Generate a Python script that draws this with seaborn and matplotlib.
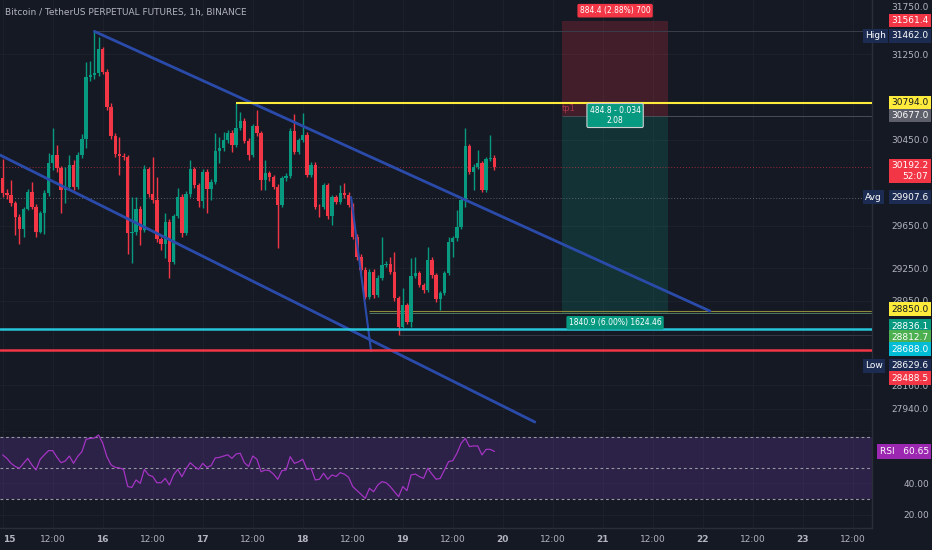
import numpy as np
import pandas as pd
import seaborn as sns
import matplotlib.pyplot as plt

# BTCUSDT perp, 1h candles starting Jun 15 00:00
first_open = 30096
closes = [29951, 29935, 29857, 29732, 29618, 29801, 29960, 29826, 29592, 29764,
          29956, 30236, 30308, 30184, 29982, 30012, 30215, 30012, 30308, 30458,
          31039, 31055, 31071, 31295, 31086, 30759, 30486, 30318, 30299, 30287,
          29577, 29592, 29804, 29608, 30178, 29944, 29888, 29521, 29478, 29683,
          29312, 29739, 29913, 29577, 29944, 30178, 30028, 29882, 30152, 29991,
          30059, 30346, 30371, 30448, 30516, 30402, 30563, 30626, 30442, 30308,
          30579, 30511, 30075, 30137, 30100, 30012, 29842, 30091, 30112, 30535,
          30339, 30448, 30495, 30122, 30215, 29826, 29820, 30028, 29739, 29913,
          29872, 29951, 29935, 29842, 29546, 29359, 29235, 28986, 29219, 29001,
          29160, 29282, 29291, 29219, 28971, 28706, 28908, 28752, 29179, 29204,
          29095, 29048, 29328, 29188, 28961, 29017, 29204, 29499, 29531, 29639,
          29888, 30392, 30152, 30199, 30231, 29982, 30268, 30283, 30192.2]
highs = [30268, 29990, 30075, 29880, 29760, 29826, 29988, 30059, 29850, 29790,
         29980, 30324, 30557, 30402, 30210, 30199, 30308, 30262, 30336, 30504,
         31179, 31188, 31462, 31412, 31320, 31110, 30790, 30510, 30479, 30330,
         30310, 29919, 29919, 29830, 30215, 30200, 30292, 30100, 29545, 29764,
         29710, 29760, 29997, 29940, 29970, 30262, 30200, 30050, 30180, 30175,
         30085, 30511, 30479, 30526, 30545, 30540, 30794, 30713, 30650, 30465,
         30600, 30728, 30530, 30262, 30160, 30125, 30035, 30110, 30140, 30560,
         30691, 30470, 30697, 30520, 30240, 30240, 29850, 30050, 30050, 29935,
         29935, 30028, 30044, 29966, 29865, 29570, 29380, 29260, 29245, 29240,
         29185, 29546, 29320, 29359, 29406, 28995, 29064, 28930, 29344, 29359,
         29225, 29115, 29452, 29359, 29210, 29040, 29225, 29546, 29555, 29795,
         29910, 30557, 30415, 30220, 30355, 30255, 30290, 30495, 30305]
lows = [29920, 29900, 29830, 29562, 29478, 29546, 29795, 29800, 29546, 29580,
        29571, 29930, 30168, 30150, 29764, 29857, 29990, 29982, 29990, 30280,
        30374, 31000, 31020, 31050, 31060, 30730, 30460, 30290, 30122, 30262,
        29384, 29297, 29562, 29468, 29590, 29920, 29860, 29500, 29422, 29344,
        29157, 29290, 29720, 29546, 29560, 29920, 30000, 29826, 29811, 29764,
        29888, 30040, 30231, 30350, 30420, 30339, 30380, 30540, 30420, 30262,
        30290, 30490, 29982, 29982, 30070, 29990, 29437, 29820, 30070, 30090,
        30320, 30320, 30430, 30100, 30100, 29800, 29732, 29800, 29715, 29655,
        29850, 29850, 29910, 29820, 29520, 29330, 29210, 28960, 28960, 28975,
        28980, 29140, 29260, 29200, 28950, 28629.6, 28690, 28730, 28706, 29160,
        29075, 29017, 29030, 29165, 28940, 28862, 29000, 29185, 29359, 29510,
        29620, 29826, 30130, 29982, 30180, 29960, 29960, 30250, 30170]
rsi = [58.4, 56.2, 53, 51, 49.8, 53, 56.2, 52, 48.7, 55.6,
       58.5, 61.2, 61.2, 57, 53.4, 54.5, 57.7, 53.0, 57.5, 60.5,
       68.5, 69.1, 69.3, 71.3, 66, 57.3, 52, 50.4, 50, 49.1,
       38.0, 37.5, 42.3, 40.1, 49.1, 45.5, 44.5, 40.5, 40.5, 43.3,
       39.0, 45.5, 49.1, 44.4, 49.5, 53.4, 51, 49.1, 53.0, 50.4,
       51.5, 56.5, 56.8, 57.7, 58.5, 56.2, 59.0, 59.5, 53.4, 51,
       57.7, 55.6, 47.6, 48.7, 48.3, 46, 42.7, 48.3, 48.7, 57.3,
       53.0, 54, 55.6, 49.1, 49.8, 42.3, 42.7, 46.6, 42.7, 45.5,
       44.5, 47.0, 46, 44, 38.0, 35.5, 33.0, 30.4, 36.9, 34.7,
       39.0, 41.2, 40.5, 38, 34.7, 31.5, 38.0, 35.4, 45.5, 46.1,
       44.4, 43.3, 49.8, 46.1, 42.7, 43.3, 48.7, 54.1, 54.7, 59.5,
       65.9, 69.1, 63.8, 64.2, 64.2, 58.4, 62.0, 62.0, 60.65]

day_ticks = list(range(0, 205, 12))
day_labels = ['15', '12:00', '16', '12:00', '17', '12:00', '18', '12:00', '19',
              '12:00', '20', '12:00', '21', '12:00', '22', '12:00', '23', '12:00']
price_ticks = [31250, 30450, 29650, 29250, 28950, 28160, 27940]
rsi_ticks = [40, 20]

# drawings
trend_upper = ([22, 169.7], [31462, 28852])
trend_lower = ([-0.65, 127.7], [30308, 27816])
trend_steep = ([83.6, 88.4], [29916, 28479])
resist = 30794.0
support_cyan = 28688.0
support_red = 28488.5
entry, stop, target = 30677.0, 31561.4, 28836.1
pos_x = (134.2, 159.7)

bg = '#151924'
txt = '#b2b5be'
up_c = '#089981'
dn_c = '#f23645'
blue = '#2b4bab'

sns.set_theme(style='dark', rc={'axes.facecolor': bg, 'figure.facecolor': bg})
plt.rcParams['font.family'] = ['Liberation Sans Narrow', 'DejaVu Sans']

df = pd.DataFrame({'hour': np.arange(len(closes)), 'open': [first_open] + closes[:-1],
                   'close': closes, 'high': highs, 'low': lows, 'rsi': rsi})
df['color'] = np.where(df['close'] >= df['open'], up_c, dn_c)

fig = plt.figure(figsize=(9.32, 5.5), dpi=100)
ax = fig.add_axes([0, 118 / 550, 872 / 932, 432 / 550])
ax2 = fig.add_axes([0, 22 / 550, 872 / 932, 96 / 550])

# ---- main price pane
xlim = (-0.65, 208.6)
ax.set_xlim(*xlim)
ax.set_ylim(27723, 31755)
ax.set_xticks(day_ticks)
ax.set_xticklabels([])
ax.set_yticks(price_ticks)
ax.set_yticklabels([f'{v:.1f}' for v in price_ticks])
ax.yaxis.tick_right()
ax.tick_params(axis='y', colors=txt, labelsize=6.5, length=0, pad=41)
ax.tick_params(axis='x', length=0)
for lbl in ax.get_yticklabels():
    lbl.set_ha('right')
ax.grid(True, color='#1d212c', lw=0.7)
for s in ['top', 'left']:
    ax.spines[s].set_visible(False)
for s in ['right', 'bottom']:
    ax.spines[s].set_color('#2a2e39')
    ax.spines[s].set_linewidth(1)

# position tool boxes
ax.fill_between(pos_x, entry, stop, color='#f23645', alpha=0.2, lw=0, zorder=1)
ax.fill_between(pos_x, target, entry, color='#089981', alpha=0.2, lw=0, zorder=1)

# reference lines
ax.hlines(31462, 22, xlim[1], color='#3a3e4a', lw=0.7, zorder=1)
ax.hlines(entry, pos_x[0], xlim[1], color='#4a4d57', lw=0.7, zorder=1)
ax.axhline(30192.2, color='#f23645', lw=0.7, ls=(0, (1, 2)), alpha=0.6, zorder=1)
ax.axhline(29907.6, color='#5d606b', lw=0.7, ls=(0, (1, 2)), zorder=1)
ax.hlines(28850.0, 88, xlim[1], color='#8d8a3c', lw=0.8, zorder=1)
ax.hlines(target, 88, xlim[1], color='#4f7560', lw=0.7, zorder=1)
ax.hlines(28629.6, 95, xlim[1], color='#343845', lw=0.7, zorder=1)

# candles
ax.vlines(df['hour'], df['low'], df['high'], color=df['color'], lw=1.0, zorder=3)
ax.bar(df['hour'], df['close'] - df['open'], bottom=df['open'], width=0.8,
       color=df['color'], lw=0, zorder=4)

# trendlines / levels
ax.plot(*trend_upper, color=blue, lw=2, solid_capstyle='round', zorder=5)
ax.plot(*trend_lower, color=blue, lw=2, solid_capstyle='round', zorder=5)
ax.plot(*trend_steep, color=blue, lw=1.5, zorder=5)
ax.hlines(resist, 56, xlim[1], color='#ffeb3b', lw=1.5, zorder=5)
ax.axhline(support_cyan, color='#26c6da', lw=1.8, zorder=5)
ax.axhline(support_red, color='#f23645', lw=1.8, zorder=5)

mid = sum(pos_x) / 2
ax.annotate('884.4 (2.88%) 700', (mid, stop), xytext=(0, 4), textcoords='offset points',
            ha='center', va='bottom', fontsize=5.5, color='white',
            bbox=dict(boxstyle='round,pad=0.3,rounding_size=0.2', fc='#f23645', ec='none'), zorder=7)
ax.annotate('484.8 - 0.034\n2.08', (mid, entry), xytext=(0, 0), textcoords='offset points',
            ha='center', va='center', fontsize=5.5, color='white', linespacing=1.1,
            bbox=dict(boxstyle='round,pad=0.35,rounding_size=0.2', fc='#089981', ec='#d0d0d0', lw=0.8),
            zorder=7)
ax.annotate('1840.9 (6.00%) 1624.46', (mid, target), xytext=(0, -4), textcoords='offset points',
            ha='center', va='top', fontsize=5.5, color='white',
            bbox=dict(boxstyle='round,pad=0.3,rounding_size=0.2', fc='#089981', ec='none'), zorder=7)
ax.annotate('tp1', (pos_x[0], entry), xytext=(0, 2), textcoords='offset points',
            ha='left', va='bottom', fontsize=6, color='#a8354a', zorder=7)

fig.text(5 / 932, 1 - 13 / 550, 'Bitcoin / TetherUS PERPETUAL FUTURES, 1h, BINANCE',
         fontsize=6.5, color=txt, va='center', ha='left')

# price scale tags: value, text, background, text colour, vertical shift (pt)
tags = [
    (31750.0, '31750.0', None, txt, -5),
    (31561.4, '31561.4', '#f23645', 'white', 0),
    (31462.0, '31462.0', '#1c2b52', 'white', -3.3),
    (resist, '30794.0', '#ffeb3b', '#131722', 0),
    (entry, '30677.0', '#5d606b', 'white', 0),
    (30192.2, '30192.2\n52:07', '#f23645', 'white', -2.6),
    (29907.6, '29907.6', '#1c2b52', 'white', 0.6),
    (28850.0, '28850.0', '#ffeb3b', '#131722', 1.5),
    (target, '28836.1', '#089981', 'white', -9.6),
    (28812.7, '28812.7', '#4caf50', 'white', -15.8),
    (support_cyan, '28688.0', '#00bcd4', 'white', -14.7),
    (28629.6, '28629.6', '#1c2b52', 'white', -22.3),
    (support_red, '28488.5', '#f23645', 'white', -20.2),
]
for val, label, fc, fg, dy in tags:
    box = None if fc is None else dict(boxstyle='square,pad=0.25', fc=fc, ec='none')
    ax.annotate(label, (1, val), xycoords=('axes fraction', 'data'), xytext=(40.5, dy),
                textcoords='offset points', ha='right', va='center', fontsize=6.5,
                color=fg, bbox=box, annotation_clip=False, linespacing=1.25, zorder=8)
for val, label, dy in [(31462.0, 'High', -3.3), (29907.6, 'Avg', 0.6), (28629.6, 'Low', -22.3)]:
    ax.annotate(label, (1, val), xycoords=('axes fraction', 'data'), xytext=(-5, dy),
                textcoords='offset points', ha='left', va='center', fontsize=6.5,
                color='white', annotation_clip=False, zorder=8,
                bbox=dict(boxstyle='square,pad=0.25', fc='#1c2b52', ec='none'))

# ---- RSI pane
ax2.set_xlim(*xlim)
ax2.set_ylim(11.3, 73.2)
ax2.axhspan(30, 70, color='#7e3fc2', alpha=0.22, lw=0)
for lvl in [70, 50, 30]:
    ax2.axhline(lvl, color='#9598a1', lw=0.8, ls=(0, (2.5, 2.5)))
sns.lineplot(data=df, x='hour', y='rsi', ax=ax2, color='#a434c4', lw=0.9)
ax2.set_xlabel('')
ax2.set_ylabel('')
ax2.set_yticks(rsi_ticks)
ax2.set_yticklabels([f'{v:.2f}' for v in rsi_ticks])
ax2.yaxis.tick_right()
ax2.tick_params(axis='y', colors=txt, labelsize=6.5, length=0, pad=41)
for lbl in ax2.get_yticklabels():
    lbl.set_ha('right')
ax2.set_xticks(day_ticks)
ax2.set_xticklabels(day_labels)
ax2.tick_params(axis='x', colors=txt, labelsize=6.5, length=0, pad=5)
xlbls = ax2.get_xticklabels()
for lbl in xlbls:
    if ':' not in lbl.get_text():
        lbl.set_fontweight('bold')
xlbls[0].set_ha('left')
ax2.grid(True, color='#1d212c', lw=0.7)
for s in ['top', 'left']:
    ax2.spines[s].set_visible(False)
for s in ['right', 'bottom']:
    ax2.spines[s].set_color('#2a2e39')
    ax2.spines[s].set_linewidth(1)
ax2.annotate('RSI   60.65', (1, rsi[-1]), xycoords=('axes fraction', 'data'), xytext=(5.5, 0),
             textcoords='offset points', ha='left', va='center', fontsize=6.5, color='white',
             annotation_clip=False, bbox=dict(boxstyle='square,pad=0.3', fc='#9c27b0', ec='none'))

fig.savefig('out.png', dpi=100, facecolor=bg)
